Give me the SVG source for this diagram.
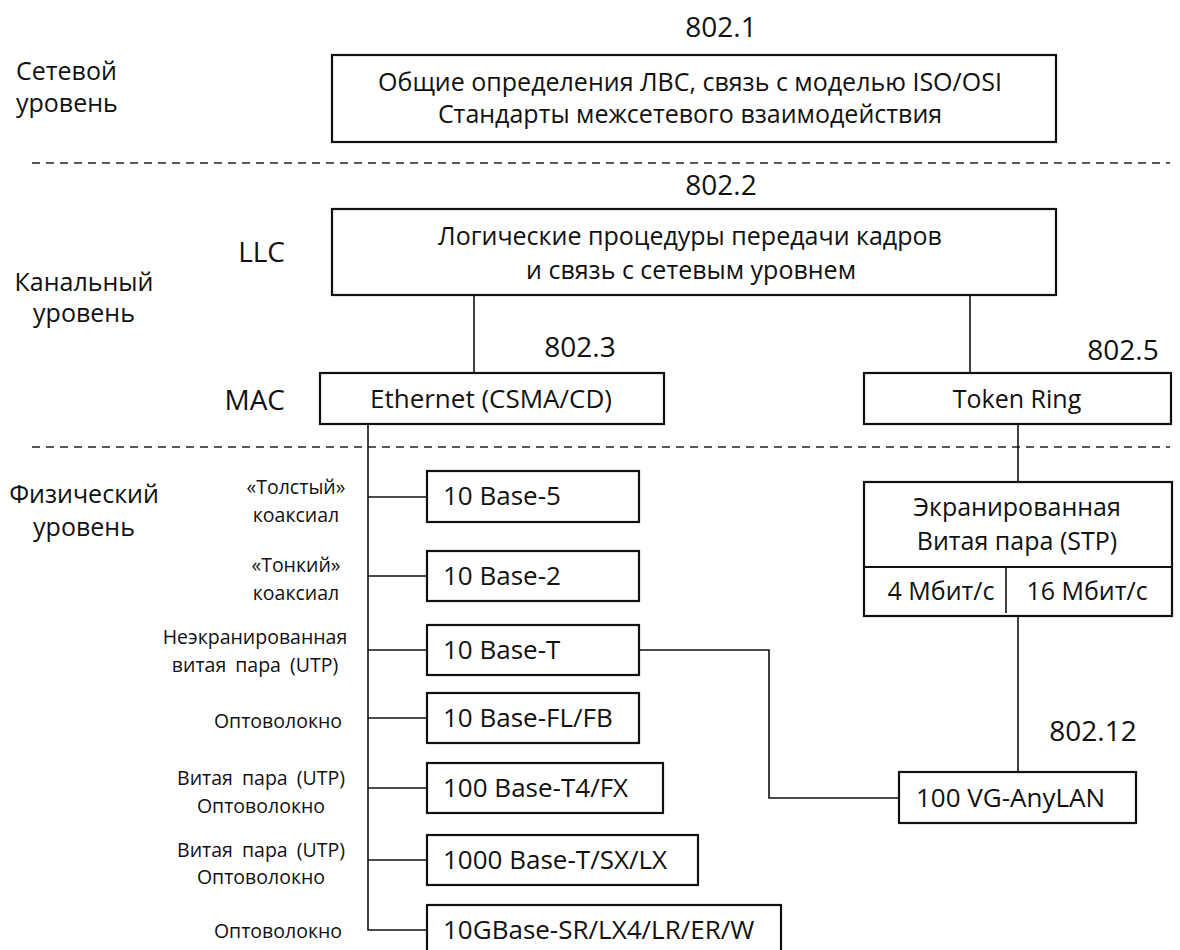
<svg xmlns="http://www.w3.org/2000/svg" width="1180" height="950" viewBox="0 0 1180 950">
  <style>
    text { font-family: "Open Sans", "Noto Sans", "Liberation Sans", sans-serif; fill: #111; }
    .t { font-size: 25px; }
    .p { font-size: 26px; }
    .n { font-size: 28px; }
    .s { font-size: 19.5px; word-spacing: 4px; }
    .m { text-anchor: middle; }
    .e { text-anchor: end; }
    .box { fill: #fff; stroke: #111; stroke-width: 2.2; }
    .ln { fill: none; stroke: #111; stroke-width: 1.6; }
    .dash { fill: none; stroke: #222; stroke-width: 1.6; stroke-dasharray: 8 6; }
  </style>

  <!-- level separators -->
  <g id="separators">
    <line class="dash" x1="32" y1="163" x2="1170" y2="163"/>
    <line class="dash" x1="32" y1="447" x2="1170" y2="447"/>
  </g>

  <!-- level names -->
  <g id="levels">
    <text class="t" x="16" y="80">Сетевой</text>
    <text class="t" x="16" y="112">уровень</text>
    <text class="t m" x="84" y="291">Канальный</text>
    <text class="t m" x="84" y="322">уровень</text>
    <text class="t m" x="84" y="503">Физический</text>
    <text class="t m" x="84" y="536">уровень</text>
    <text class="n e" x="285" y="262">LLC</text>
    <text class="n e" x="285" y="410">MAC</text>
  </g>

  <!-- connectors -->
  <g id="connectors">
    <line class="ln" x1="474" y1="295" x2="474" y2="373"/>
    <line class="ln" x1="970" y1="295" x2="970" y2="373"/>
    <path class="ln" d="M368 424 V930 H427"/>
    <line class="ln" x1="368" y1="497" x2="427" y2="497"/>
    <line class="ln" x1="368" y1="576" x2="427" y2="576"/>
    <line class="ln" x1="368" y1="650" x2="427" y2="650"/>
    <line class="ln" x1="368" y1="718" x2="427" y2="718"/>
    <line class="ln" x1="368" y1="788" x2="427" y2="788"/>
    <line class="ln" x1="368" y1="860" x2="427" y2="860"/>
    <line class="ln" x1="1018" y1="424" x2="1018" y2="482"/>
    <line class="ln" x1="1018" y1="616" x2="1018" y2="772"/>
    <path class="ln" d="M639 650 H769 V798 H899"/>
  </g>

  <!-- 802.1 -->
  <g id="ieee-802-1">
    <text class="n m" x="721" y="37">802.1</text>
    <rect class="box" x="332" y="55" width="724" height="87"/>
    <text class="t m" x="690" y="91">Общие определения ЛВС, связь с моделью ISO/OSI</text>
    <text class="t m" x="690" y="123">Стандарты межсетевого взаимодействия</text>
  </g>

  <!-- 802.2 LLC -->
  <g id="ieee-802-2">
    <text class="n m" x="721" y="195">802.2</text>
    <rect class="box" x="332" y="209" width="724" height="86"/>
    <text class="t m" x="690" y="245">Логические процедуры передачи кадров</text>
    <text class="t m" x="691" y="279">и связь с сетевым уровнем</text>
  </g>

  <!-- 802.3 Ethernet -->
  <g id="ieee-802-3">
    <text class="n m" x="580" y="357">802.3</text>
    <rect class="box" x="320" y="373" width="344" height="51"/>
    <text class="p m" x="491" y="408">Ethernet (CSMA/CD)</text>
  </g>

  <!-- 802.5 Token Ring -->
  <g id="ieee-802-5">
    <text class="n m" x="1123" y="360">802.5</text>
    <rect class="box" x="864" y="373" width="307" height="51"/>
    <text class="t m" x="1017" y="408">Token Ring</text>
  </g>

  <!-- shielded twisted pair -->
  <g id="stp">
    <rect class="box" x="864" y="482" width="308" height="134"/>
    <line class="box" x1="864" y1="567" x2="1172" y2="567" stroke-width="3.2"/>
    <line class="ln" x1="1006" y1="567" x2="1006" y2="613"/>
    <text class="t m" x="1017" y="516">Экранированная</text>
    <text class="t m" x="1017" y="550">Витая пара (STP)</text>
    <text class="t m" x="941" y="600">4 Мбит/с</text>
    <text class="t m" x="1087" y="600">16 Мбит/с</text>
  </g>

  <!-- 802.12 -->
  <g id="ieee-802-12">
    <text class="n m" x="1093" y="741">802.12</text>
    <rect class="box" x="899" y="772" width="237" height="51"/>
    <text class="p" x="916" y="807">100 VG-AnyLAN</text>
  </g>

  <!-- physical media -->
  <g id="base5">
    <rect class="box" x="427" y="471" width="212" height="51"/>
    <text class="p" x="443" y="505">10 Base-5</text>
    <text class="s m" x="296" y="494">«Толстый»</text>
    <text class="s m" x="296" y="522">коаксиал</text>
  </g>
  <g id="base2">
    <rect class="box" x="427" y="551" width="212" height="50"/>
    <text class="p" x="443" y="585">10 Base-2</text>
    <text class="s m" x="296" y="572">«Тонкий»</text>
    <text class="s m" x="296" y="600">коаксиал</text>
  </g>
  <g id="baseT">
    <rect class="box" x="427" y="625" width="212" height="50"/>
    <text class="p" x="443" y="659">10 Base-T</text>
    <text class="s m" x="255" y="644">Неэкранированная</text>
    <text class="s m" x="255" y="672">витая пара (UTP)</text>
  </g>
  <g id="baseFL">
    <rect class="box" x="427" y="693" width="212" height="50"/>
    <text class="p" x="443" y="727">10 Base-FL/FB</text>
    <text class="s m" x="278" y="728">Оптоволокно</text>
  </g>
  <g id="base100">
    <rect class="box" x="427" y="763" width="236" height="50"/>
    <text class="p" x="443" y="797">100 Base-T4/FX</text>
    <text class="s m" x="261" y="785">Витая пара (UTP)</text>
    <text class="s m" x="261" y="813">Оптоволокно</text>
  </g>
  <g id="base1000">
    <rect class="box" x="427" y="835" width="271" height="50"/>
    <text class="p" x="443" y="869">1000 Base-T/SX/LX</text>
    <text class="s m" x="261" y="857">Витая пара (UTP)</text>
    <text class="s m" x="261" y="884">Оптоволокно</text>
  </g>
  <g id="base10g">
    <rect class="box" x="427" y="905" width="354" height="51"/>
    <text class="p" x="443" y="939">10GBase-SR/LX4/LR/ER/W</text>
    <text class="s m" x="278" y="938">Оптоволокно</text>
  </g>
</svg>
